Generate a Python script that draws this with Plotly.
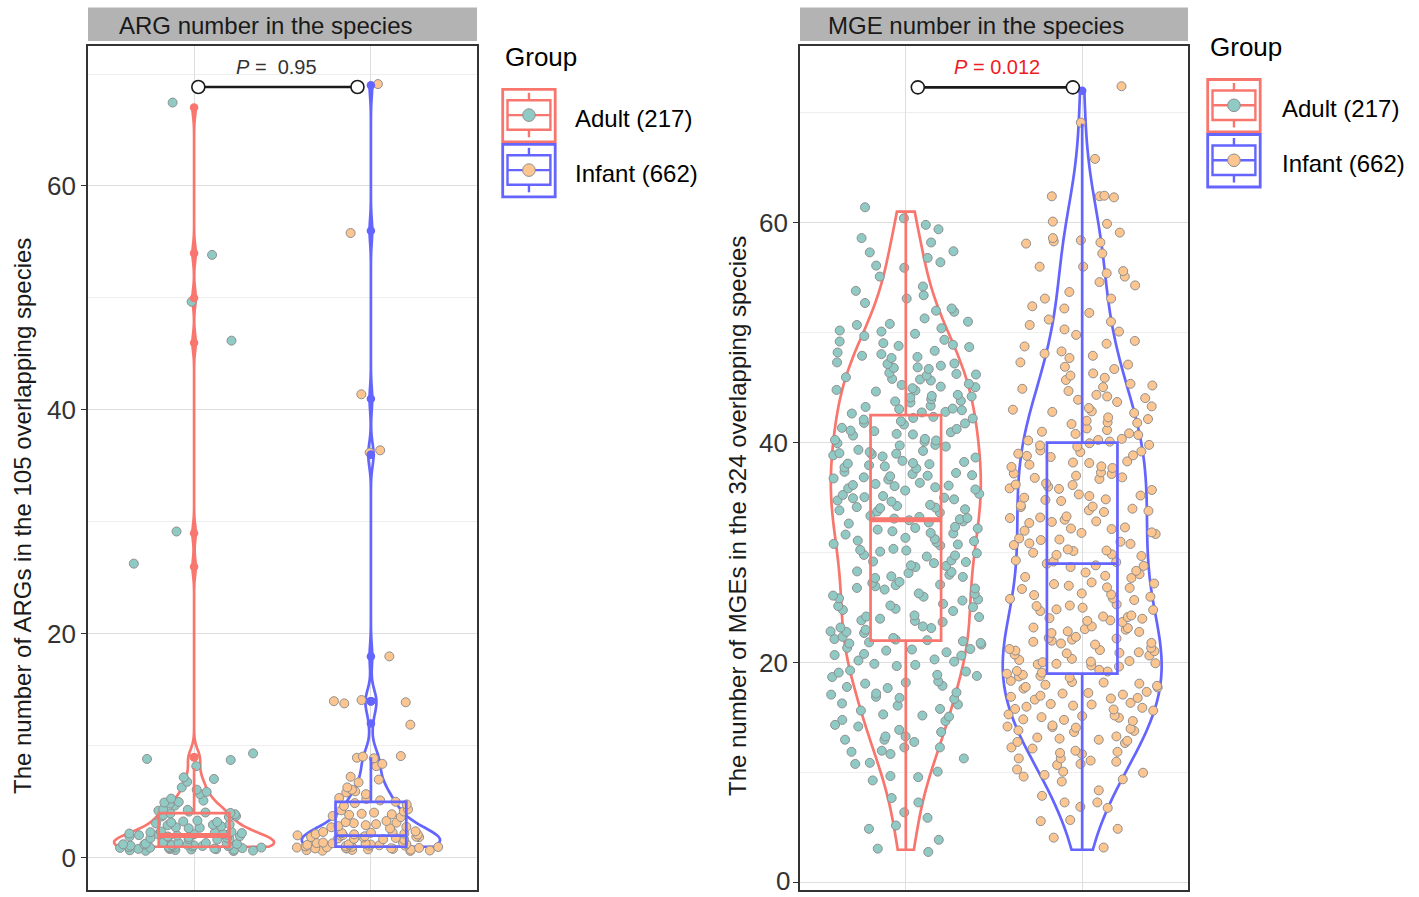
import numpy as np
import plotly.graph_objects as go

# ---------------------------------------------------------------- data
groups = ["Adult", "Infant"]
group_labels = ["Adult (217)", "Infant (662)"]
panel_titles = ["ARG number in the species", "MGE number in the species"]
y_titles = ["The number of ARGs in the 105 overlapping species",
            "The number of MGEs in the 324 overlapping species"]
p_values = ["0.95", "0.012"]
y_ticks = [0, 20, 40, 60]

# displayed (vertically jittered) values; counts = rounded
arg_adult = [
    0.62, 0.71, 0.78, 0.84, 0.90, 0.95, 1.02, 1.08, 1.15, 1.22, 1.30, 1.36,
    0.66, 0.74, 0.81, 0.88, 0.93, 0.99, 1.05, 1.12, 1.18, 1.25, 1.33,
    0.69, 0.76, 0.86, 0.97, 1.07, 1.17, 1.28, 0.64, 0.80, 0.92, 1.10, 1.20, 1.38,
    1.64, 1.72, 1.80, 1.88, 1.95, 2.03, 2.10, 2.18, 2.26, 2.33,
    1.68, 1.77, 1.85, 1.92, 2.00, 2.07, 2.15, 2.22, 2.30, 2.37, 1.90, 2.12,
    2.65, 2.74, 2.83, 2.92, 3.00, 3.08, 3.17, 3.26, 3.34, 2.70, 2.96, 3.21,
    3.66, 3.74, 3.82, 3.90, 3.98, 4.06, 4.14, 4.22, 4.30, 3.70, 4.02, 4.35,
    4.68, 4.85, 5.00, 5.12, 5.30, 4.95, 5.70, 5.90, 6.10, 6.30,
    6.80, 7.05, 7.20, 8.20, 8.75, 8.84, 9.34,
    26.28, 29.15, 46.19, 49.66, 53.85, 67.45,
]
arg_infant = [
    0.63, 0.70, 0.77, 0.84, 0.90, 0.96, 1.03, 1.10, 1.17, 1.24, 1.31, 1.37,
    0.67, 0.74, 0.81, 0.87, 0.93, 1.00, 1.06, 1.13, 1.20, 1.28, 1.34,
    0.72, 0.85, 0.98, 1.09, 1.22, 0.65, 0.89, 1.15, 1.33,
    1.63, 1.71, 1.79, 1.87, 1.94, 2.02, 2.09, 2.17, 2.25, 2.32, 2.38,
    1.67, 1.75, 1.83, 1.90, 1.98, 2.05, 2.13, 2.21, 2.29, 1.86, 2.11,
    2.64, 2.74, 2.84, 2.93, 3.02, 3.11, 3.20, 3.30, 2.78, 3.15,
    3.65, 3.75, 3.85, 3.95, 4.05, 4.15, 4.25, 4.34, 3.90,
    4.65, 4.78, 4.90, 5.02, 5.14, 5.27, 5.36,
    5.70, 5.85, 5.95, 6.10, 6.30, 6.75, 7.00, 7.25, 8.20, 8.40,
    8.90, 8.95, 9.05, 9.10,
    11.9, 13.8, 13.9, 14.0, 14.1, 18.0, 36.2, 36.4, 41.4, 55.8, 69.1,
]
mge_adult = [
    2.8, 3.1, 3.9, 4.9, 5.2, 5.9, 6.4, 7.3, 7.7, 9.3,
    9.6, 10.1, 9.7, 10.8, 10.9, 11.3, 11.7, 11.9, 12.0, 12.3, 12.3,
    13.0, 13.0, 13.3, 13.3, 12.8, 13.9, 14.2, 13.7, 14.35,
    14.8, 15.1, 15.3, 14.7, 15.2, 15.8, 16.1, 16.3, 15.65, 16.2,
    16.7, 16.9, 17.1, 17.3, 16.8, 17.2, 17.7, 17.9, 18.1, 18.3, 17.8, 18.2,
    18.7, 18.9, 19.1, 19.3, 18.8, 19.2, 19.7, 19.9, 20.1, 20.3, 19.8, 20.2,
    20.65, 20.8, 20.95, 21.1, 21.25, 21.35, 20.7, 21.2,
    21.65, 21.75, 21.85, 21.95, 22.05, 22.15, 22.25, 22.35, 21.8, 22.1,
    22.7, 22.85, 23.0, 23.15, 23.3, 22.8, 23.2,
    23.7, 23.85, 24.0, 24.15, 24.3, 23.8, 24.2,
    24.7, 24.9, 25.05, 25.2, 25.35, 24.8, 25.15,
    25.65, 25.85, 26.0, 26.1, 26.3, 25.75, 26.25,
    26.65, 26.8, 26.95, 27.1, 27.25, 27.35, 26.75, 27.05,
    27.7, 27.85, 28.0, 28.15, 28.3, 27.8, 28.25,
    28.7, 28.85, 29.05, 29.15, 29.3, 28.8, 29.2,
    29.65, 29.8, 29.95, 30.1, 30.25, 30.35, 29.75, 30.2,
    30.65, 30.8, 30.95, 31.1, 31.25, 31.35, 30.75, 31.05,
    31.65, 31.8, 31.95, 32.1, 32.25, 32.35, 31.75, 32.2,
    32.65, 32.75, 32.85, 32.95, 33.05, 33.15, 33.25, 33.35, 33.1,
    33.65, 33.75, 33.85, 33.95, 34.05, 34.15, 34.25, 34.35, 34.1,
    34.65, 34.75, 34.85, 34.95, 35.05, 35.15, 35.25, 35.35, 35.0,
    35.65, 35.75, 35.85, 35.95, 36.05, 36.15, 36.25, 36.35, 36.1,
    36.65, 36.75, 36.85, 36.95, 37.05, 37.15, 37.25, 37.35, 37.0,
    37.65, 37.75, 37.85, 37.95, 38.05, 38.15, 38.25, 38.35, 38.1,
    38.65, 38.75, 38.85, 38.95, 39.05, 39.15, 39.25, 39.35, 39.0,
    39.65, 39.8, 39.95, 40.1, 40.25, 40.35, 39.75, 40.2,
    40.65, 40.8, 40.95, 41.1, 41.25, 41.35, 40.75, 41.05,
    41.65, 41.8, 41.95, 42.1, 42.25, 42.35, 41.75, 42.2,
    42.65, 42.8, 42.95, 43.1, 43.25, 43.35, 42.75, 43.05,
    43.65, 43.8, 43.95, 44.1, 44.25, 44.35, 43.75, 44.2,
    44.65, 44.8, 44.95, 45.1, 45.25, 45.35, 44.75, 45.05,
    45.65, 45.8, 45.95, 46.1, 46.25, 46.35, 45.75, 46.2,
    46.7, 46.85, 47.0, 47.15, 47.3, 46.8, 47.2,
    47.7, 47.9, 48.05, 48.2, 48.35, 47.8,
    48.7, 48.9, 49.05, 49.2, 49.35, 48.8,
    49.7, 49.9, 50.1, 50.4, 50.2, 50.7, 51.0, 51.3, 50.8,
    51.9, 52.0, 52.2, 52.7, 53.4, 53.1, 53.8, 54.2,
    55.1, 55.9, 56.1, 56.4, 56.8, 57.3, 57.4, 58.2, 59.4, 58.6, 60.4, 59.8, 61.4,
]
mge_infant = [
    3.2, 4.1, 4.9, 5.6, 5.7, 7.3, 7.3, 6.9, 6.8, 7.9, 8.4, 9.4, 9.2,
    9.8, 10.0, 10.3, 9.65, 10.1, 10.7, 11.3, 11.1, 11.0, 11.3, 10.8,
    11.7, 12.0, 12.3, 11.8, 12.2, 11.9, 12.8, 12.7, 13.1, 13.3, 12.9, 13.2, 13.0,
    13.7, 13.85, 14.0, 14.15, 14.3, 13.8, 14.2, 14.1,
    14.7, 14.85, 15.0, 15.15, 15.3, 14.8, 15.2, 15.05,
    15.65, 15.75, 15.9, 16.0, 16.1, 16.25, 16.35, 15.8, 16.2,
    16.65, 16.75, 16.9, 17.0, 17.1, 17.25, 17.35, 16.8, 17.2,
    17.65, 17.75, 17.9, 18.0, 18.1, 18.25, 18.35, 17.8, 18.2,
    18.65, 18.75, 18.9, 19.0, 19.1, 19.25, 19.35, 18.8, 19.2,
    19.65, 19.75, 19.85, 19.95, 20.05, 20.15, 20.25, 20.35, 19.9, 20.1,
    20.65, 20.75, 20.85, 20.95, 21.05, 21.15, 21.25, 21.35, 20.9, 21.1,
    21.65, 21.75, 21.9, 22.0, 22.1, 22.25, 22.35, 21.8, 22.2,
    22.7, 22.85, 23.0, 23.15, 23.3, 22.8, 23.2, 23.05,
    23.7, 23.85, 24.0, 24.15, 24.3, 23.8, 24.2, 24.05,
    24.7, 24.85, 25.0, 25.15, 25.3, 24.8, 25.2,
    25.7, 25.85, 26.0, 26.15, 26.3, 25.8, 26.2,
    26.7, 26.85, 27.0, 27.15, 27.3, 26.8, 27.2,
    27.7, 27.9, 28.05, 28.2, 28.35, 27.8,
    28.7, 28.85, 29.0, 29.15, 29.3, 28.8, 29.2,
    29.7, 29.85, 30.0, 30.15, 30.3, 29.8, 30.2,
    30.7, 30.85, 31.0, 31.15, 31.3, 30.8, 31.2,
    31.7, 31.85, 32.0, 32.15, 32.3, 31.8, 32.2,
    32.7, 32.85, 33.0, 33.15, 33.3, 32.8, 33.2,
    33.7, 33.85, 34.0, 34.15, 34.3, 33.8, 34.2,
    34.7, 34.85, 35.0, 35.15, 35.3, 34.8, 35.2,
    35.7, 35.85, 36.0, 36.15, 36.3, 35.8, 36.2,
    36.7, 36.85, 37.0, 37.15, 37.3, 36.8, 37.2,
    37.7, 37.85, 38.0, 38.15, 38.3, 37.8, 38.2,
    38.7, 38.85, 39.0, 39.15, 39.3, 38.8, 39.2,
    39.65, 39.8, 39.95, 40.1, 40.25, 40.35, 39.75, 40.2,
    40.7, 40.85, 41.0, 41.15, 41.3, 40.8,
    41.7, 41.85, 42.0, 42.15, 42.3, 41.8,
    42.7, 42.85, 43.0, 43.15, 43.3, 42.8,
    43.7, 43.9, 44.05, 44.2, 44.35,
    44.7, 44.9, 45.05, 45.2, 45.35,
    45.7, 45.9, 46.1, 46.3, 46.7, 46.9, 47.1, 47.3,
    47.7, 47.9, 48.1, 48.3, 48.75, 49.0, 49.25,
    49.8, 50.1, 50.3, 50.7, 51.0, 51.2, 52.4, 52.2, 51.8, 53.1, 53.1, 54.3, 53.7,
    55.4, 55.1, 54.6, 56.0, 56.0, 55.6, 57.2, 58.2, 58.1, 58.3, 58.4,
    59.1, 58.6, 60.1, 59.9, 62.3, 62.4, 62.45, 62.4, 65.8, 69.1, 72.4,
]

# ---------------------------------------------------------------- style
W, H = 1419, 897
FONT = "Liberation Sans, Arial, sans-serif"
LINE_COLORS = ["#F8766D", "#6464FF"]
FILL_COLORS = ["#8FCAC5", "#FDC58F"]
PT_EDGE = "#8F8F8F"
GRID = "#DEDEDE"
GRID_MINOR = "#EEEEEE"
FRAME = "#333333"
TICK_TEXT = "#333333"
CLEAR = "rgba(0,0,0,0)"
LW = 2.7


def px(x):
    return x / W


def py(y):
    return 1 - y / H


def nrd0(x):
    x = np.asarray(x, float)
    sd = np.std(x, ddof=1)
    q75, q25 = np.percentile(x, [75, 25])
    lo = min(sd, (q75 - q25) / 1.34)
    if lo == 0:
        lo = sd or 1.0
    return 0.9 * lo * len(x) ** -0.2


def tukey_mask(counts):
    q1, q3 = np.percentile(counts, [25, 75])
    iqr = q3 - q1
    return (counts >= q1 - 1.5 * iqr) & (counts <= q3 + 1.5 * iqr)


panels = [
    dict(xa="x", ya="y", data=[arg_adult, arg_infant], xpix=(88, 477),
         yrange=(-2.86, 72.5), vwidth=[0.9, 0.78], p_color="#333333",
         p_text="<i>P</i> = &nbsp;0.95", p_pos=(0.464, 70.6),
         bracket=(0.024, 0.924, 68.84), strip_text_x=117, ytitle_x=22,
         edge_label=False,
         legend=dict(title=(502.7, 56.7), keys=[(502.7, 89.3), (502.7, 144.3)],
                     label_x=573.3, label_y=[118.3, 173.3])),
    dict(xa="x2", ya="y2", data=[mge_adult, mge_infant], xpix=(800, 1188),
         yrange=(-0.66, 76.06), vwidth=[0.85, 0.9], p_color="#EE1C25",
         p_text="<i>P</i> = 0.012", p_pos=(0.516, 74.15),
         bracket=(0.068, 0.947, 72.3), strip_text_x=826, ytitle_x=737,
         edge_label=True,
         legend=dict(title=(1207.7, 46.7), keys=[(1207.7, 79.5), (1207.7, 134.5)],
                     label_x=1280, label_y=[108.3, 163.3])),
]

fig = go.Figure()
shapes = []
annotations = []

for pi, pn in enumerate(panels):
    xa, ya = pn["xa"], pn["ya"]
    for gi, g in enumerate(groups):
        vals = np.asarray(pn["data"][gi], float)
        counts = np.rint(vals)
        n = len(vals)
        lc, fc = LINE_COLORS[gi], FILL_COLORS[gi]
        inside = tukey_mask(counts)
        # jittered points (library jitter); bulk and far points separately
        for sub in (vals[inside], vals[~inside]):
            if len(sub) == 0:
                continue
            fig.add_trace(go.Box(
                x=[g] * len(sub), y=sub, xaxis=xa, yaxis=ya, boxpoints="all",
                jitter=1, pointpos=0, width=0.86, fillcolor=CLEAR,
                line=dict(color=CLEAR, width=0), whiskerwidth=0,
                marker=dict(color=fc, size=9, line=dict(color=PT_EDGE, width=1)),
                showlegend=False, hoverinfo="y"))
        # violin outline
        fig.add_trace(go.Violin(
            x=[g] * n, y=counts, xaxis=xa, yaxis=ya, points=False,
            box_visible=False, meanline_visible=False, spanmode="hard",
            bandwidth=nrd0(counts), width=pn["vwidth"][gi], scalemode="width",
            fillcolor=CLEAR, line=dict(color=lc, width=LW),
            showlegend=False, hoverinfo="skip"))
        # box with outliers
        fig.add_trace(go.Box(
            x=[g] * n, y=counts, xaxis=xa, yaxis=ya, boxpoints="outliers",
            jitter=0, pointpos=0, width=0.4, whiskerwidth=0, fillcolor=CLEAR,
            line=dict(color=lc, width=LW),
            marker=dict(color=lc, size=8.5, line=dict(width=0)),
            showlegend=False, hoverinfo="skip"))
        if gi == 0:
            med = float(np.median(counts))
            fig.add_trace(go.Box(
                x=[g], q1=[med], median=[med], q3=[med], lowerfence=[med],
                upperfence=[med], xaxis=xa, yaxis=ya, width=0.4, whiskerwidth=0,
                fillcolor=CLEAR, line=dict(color=lc, width=5), boxpoints=False,
                showlegend=False, hoverinfo="skip"))

    # axes
    xl, xr = pn["xpix"]
    axis_common = dict(showline=True, mirror=True, linecolor=FRAME, linewidth=1.6,
                       zeroline=False, fixedrange=True)
    fig.layout[("xaxis" if pi == 0 else "xaxis2")] = dict(
        domain=[px(xl), px(xr)], anchor=ya, type="category",
        categoryorder="array", categoryarray=groups, range=[-0.6, 1.6],
        showticklabels=False, ticks="", showgrid=True, gridcolor=GRID,
        gridwidth=1.2, **axis_common)
    fig.layout[("yaxis" if pi == 0 else "yaxis2")] = dict(
        domain=[py(890), py(46)], anchor=xa, range=list(pn["yrange"]),
        tickmode="array", tickvals=y_ticks, ticks="outside", ticklen=5,
        tickwidth=1.3, tickcolor=FRAME,
        tickfont=dict(size=26, color=TICK_TEXT, family=FONT),
        showgrid=True, gridcolor=GRID, gridwidth=1.2,
        minor=dict(tickmode="array", tickvals=[10, 30, 50, 70], showgrid=True,
                   gridcolor=GRID_MINOR, gridwidth=1, ticks=""),
        **axis_common)
    if pn["edge_label"]:
        # lowest tick label sits at the page edge; plotly hides it, so draw as text
        annotations.append(dict(xref="paper", yref=ya, x=px(xl - 9.5),
                                y=y_ticks[0], xanchor="right", yanchor="middle",
                                yshift=2, text=str(y_ticks[0]), showarrow=False,
                                borderpad=0,
                                font=dict(size=26, color=TICK_TEXT, family=FONT)))

    # strip
    shapes.append(dict(type="rect", xref="paper", yref="paper", x0=px(xl), x1=px(xr),
                       y0=py(41), y1=py(7.5), fillcolor="#B3B3B3",
                       line=dict(width=0), layer="below"))
    annotations.append(dict(xref="paper", yref="paper", x=px(pn["strip_text_x"]),
                            y=py(25.5), xanchor="left", yanchor="middle",
                            text=panel_titles[pi], showarrow=False,
                            font=dict(size=24, color="#1A1A1A", family=FONT)))
    # y title
    annotations.append(dict(xref="paper", yref="paper", x=px(pn["ytitle_x"]),
                            y=py(516), xanchor="center", yanchor="middle",
                            textangle=-90, text=y_titles[pi], showarrow=False,
                            font=dict(size=24, color="#1A1A1A", family=FONT)))
    # significance bracket
    bx0, bx1, by = pn["bracket"]
    shapes.append(dict(type="line", xref=xa, yref=ya, x0=bx0, x1=bx1, y0=by, y1=by,
                       line=dict(color="#1A1A1A", width=2.6), layer="above"))
    for bx in (bx0, bx1):
        shapes.append(dict(type="circle", xref=xa, yref=ya, xsizemode="pixel",
                           ysizemode="pixel", xanchor=bx, yanchor=by,
                           x0=-6.5, x1=6.5, y0=-6.5, y1=6.5, fillcolor="white",
                           line=dict(color="#1A1A1A", width=1.6), layer="above"))
    annotations.append(dict(xref=xa, yref=ya, x=pn["p_pos"][0], y=pn["p_pos"][1],
                            text=pn["p_text"], showarrow=False, xanchor="center",
                            yanchor="middle",
                            font=dict(size=20, color=pn["p_color"], family=FONT)))

    # legend (drawn)
    lg = pn["legend"]
    annotations.append(dict(xref="paper", yref="paper", x=px(lg["title"][0]),
                            y=py(lg["title"][1]), xanchor="left", yanchor="middle",
                            text="Group", showarrow=False,
                            font=dict(size=26, color="#000000", family=FONT)))
    for gi in range(2):
        kx, ky = lg["keys"][gi]
        s = 52.5
        lc, fc = LINE_COLORS[gi], FILL_COLORS[gi]
        cx = kx + s / 2
        shapes.append(dict(type="rect", xref="paper", yref="paper", x0=px(kx),
                           x1=px(kx + s), y0=py(ky + s), y1=py(ky),
                           line=dict(color=lc, width=2.8), fillcolor="white"))
        shapes.append(dict(type="rect", xref="paper", yref="paper", x0=px(kx + 4.8),
                           x1=px(kx + s - 4.8), y0=py(ky + 40.5), y1=py(ky + 11),
                           line=dict(color=lc, width=2.4), fillcolor=CLEAR))
        shapes.append(dict(type="line", xref="paper", yref="paper", x0=px(kx + 4.8),
                           x1=px(kx + s - 4.8), y0=py(ky + 25.8), y1=py(ky + 25.8),
                           line=dict(color=lc, width=2.4)))
        for (a, b) in ((ky + 3.5, ky + 11), (ky + 40.5, ky + 48)):
            shapes.append(dict(type="line", xref="paper", yref="paper", x0=px(cx),
                               x1=px(cx), y0=py(a), y1=py(b),
                               line=dict(color=lc, width=2.4)))
        shapes.append(dict(type="circle", xref="paper", yref="paper",
                           xsizemode="pixel", ysizemode="pixel", xanchor=px(cx),
                           yanchor=py(ky + 25.8), x0=-6.3, x1=6.3, y0=-6.3, y1=6.3,
                           fillcolor=fc, line=dict(color=PT_EDGE, width=1)))
        annotations.append(dict(xref="paper", yref="paper", x=px(lg["label_x"]),
                                y=py(lg["label_y"][gi]), xanchor="left",
                                yanchor="middle", text=group_labels[gi],
                                showarrow=False,
                                font=dict(size=24, color="#000000", family=FONT)))

fig.update_layout(
    width=W, height=H, margin=dict(l=0, r=0, t=0, b=0, pad=0),
    paper_bgcolor="white", plot_bgcolor="white", showlegend=False,
    boxmode="overlay", violinmode="overlay", boxgap=0, violingap=0,
    font=dict(family=FONT), shapes=shapes, annotations=annotations,
)

fig.write_html("out.html", config={"displayModeBar": False})
